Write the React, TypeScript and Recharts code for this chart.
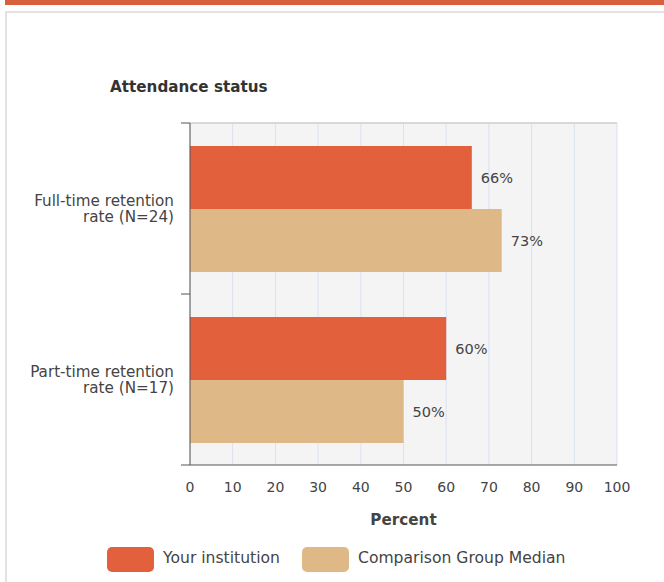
import { BarChart, Bar, XAxis, YAxis, CartesianGrid, LabelList } from "recharts";

// Chart data
const categories = ["Full-time retention rate (N=24)", "Part-time retention rate (N=17)"];
const categoryLines = [
    ["Full-time retention", "rate (N=24)"],
    ["Part-time retention", "rate (N=17)"],
];
const institution = [66, 60];
const comparison = [73, 50];
const xTicks = [0, 10, 20, 30, 40, 50, 60, 70, 80, 90, 100];
const seriesNames = ["Your institution", "Comparison Group Median"];

const ORANGE = "#e2603c";
const TAN = "#dfb887";
const FONT = "'DejaVu Sans', Verdana, sans-serif";
const Y_TICK_MARGIN = 16;

const data = categories.map((name, i) => ({
    name,
    inst: institution[i],
    comp: comparison[i],
}));

// category label + tick marks on the band edges
function CategoryTick(props: any) {
    const { x, y, payload, index, visibleTicksCount } = props;
    const idx = categories.indexOf(payload.value);
    const lines = categoryLines[idx] || [payload.value];
    const half = payload.offset || 0;
    const axisX = x + Y_TICK_MARGIN;
    const isLast = index === (visibleTicksCount || categories.length) - 1;
    return (
        <g>
            <line x1={axisX - 9} x2={axisX} y1={y - half} y2={y - half} stroke="#555" />
            {isLast && <line x1={axisX - 9} x2={axisX} y1={y + half} y2={y + half} stroke="#555" />}
            <text x={x} y={y} textAnchor="end" fill="#444" fontSize={15.2} fontFamily={FONT}>
                {lines.map((l, i) => (
                    <tspan key={i} x={x} dy={i === 0 ? -3 : 16.7}>
                        {l}
                    </tspan>
                ))}
            </text>
        </g>
    );
}

function App() {
    return (
        <div style={{ position: "absolute", left: 0, top: 0, width: 664, height: 582, overflow: "hidden", background: "#fff", fontFamily: FONT }}>
            <div style={{ position: "absolute", left: 5, top: 0, width: 659, height: 5, background: "#d9603d" }} />
            <div style={{ position: "absolute", left: 5, top: 11, width: 700, height: 600, border: "2px solid #e2e2e2", boxSizing: "border-box" }} />
            <div style={{ position: "absolute", left: 110, top: 78, fontSize: 15.2, fontWeight: "bold", color: "#333" }}>
                Attendance status
            </div>
            <div style={{ position: "absolute", left: 0, top: 0 }}>
                <BarChart
                    width={664}
                    height={582}
                    data={data}
                    layout="vertical"
                    margin={{ top: 123, right: 47, left: 0, bottom: 57 }}
                    barCategoryGap={23}
                    barGap={0}
                >
                    <CartesianGrid horizontal={false} stroke="#dae1ef" fill="#f4f4f4" />
                    <CartesianGrid
                        vertical={false}
                        stroke="#d8d8d8"
                        strokeWidth={2}
                        horizontalCoordinatesGenerator={({ offset }: any) => [offset.top]}
                    />
                    <XAxis
                        type="number"
                        domain={[0, 100]}
                        ticks={xTicks}
                        tickLine={false}
                        tickSize={0}
                        tickMargin={17}
                        axisLine={{ stroke: "#555" }}
                        height={60}
                        tick={{ fill: "#444", fontSize: 14, fontFamily: FONT }}
                        label={{ value: "Percent", position: "insideBottom", offset: 0, fill: "#444", fontSize: 15.2, fontWeight: "bold", fontFamily: FONT }}
                    />
                    <YAxis
                        type="category"
                        dataKey="name"
                        width={190}
                        tickLine={false}
                        tickSize={0}
                        tickMargin={Y_TICK_MARGIN}
                        axisLine={{ stroke: "#555" }}
                        tick={<CategoryTick />}
                    />
                    <Bar dataKey="inst" name={seriesNames[0]} fill={ORANGE} isAnimationActive={false}>
                        <LabelList dataKey="inst" position="right" offset={9} formatter={(v: any) => `${v}%`} fill="#444" fontSize={14.5} fontFamily={FONT} />
                    </Bar>
                    <Bar dataKey="comp" name={seriesNames[1]} fill={TAN} isAnimationActive={false}>
                        <LabelList dataKey="comp" position="right" offset={9} formatter={(v: any) => `${v}%`} fill="#444" fontSize={14.5} fontFamily={FONT} />
                    </Bar>
                </BarChart>
            </div>
            {seriesNames.map((n, i) => (
                <div
                    key={n}
                    style={{ position: "absolute", left: i === 0 ? 107 : 302, top: 547, height: 25, display: "flex", alignItems: "center", fontSize: 15.6, color: "#444" }}
                >
                    <div style={{ width: 47, height: 25, borderRadius: 5, background: i === 0 ? ORANGE : TAN, marginRight: 9 }} />
                    <span style={{ marginTop: -3 }}>{n}</span>
                </div>
            ))}
        </div>
    );
}

export default App;
